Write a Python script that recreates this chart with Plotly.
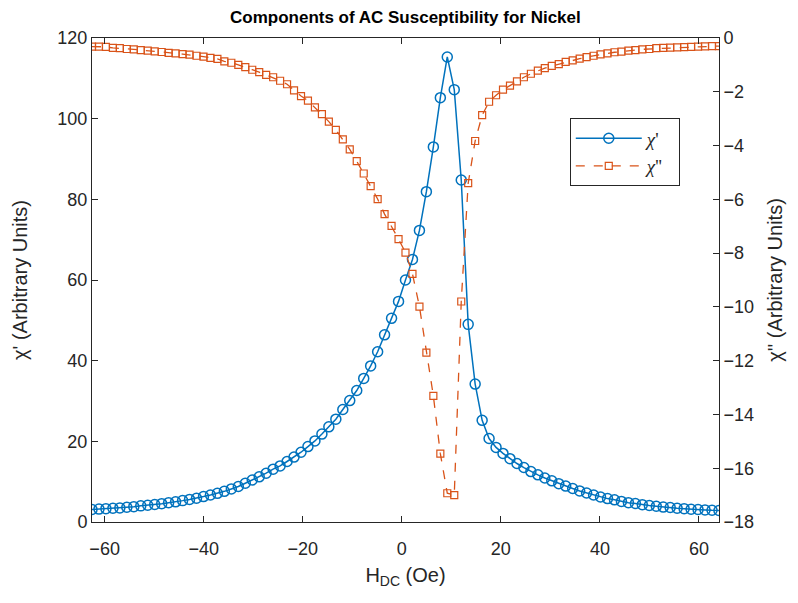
import plotly.graph_objects as go

# DC bias field sweep (Oe)
h_dc = [-62.55, -61.14, -59.74, -58.33, -56.93, -55.52, -54.11, -52.70, -51.30, -49.89,
        -48.48, -47.08, -45.67, -44.26, -42.86, -41.45, -40.04, -38.64, -37.23, -35.83,
        -34.42, -33.01, -31.60, -30.20, -28.79, -27.39, -25.98, -24.57, -23.17, -21.76,
        -20.35, -18.95, -17.54, -16.13, -14.73, -13.32, -11.91, -10.51, -9.10, -7.69,
        -6.29, -4.88, -3.48, -2.07, -0.66, 0.74, 2.15, 3.56, 4.96, 6.37,
        7.78, 9.18, 10.59, 12.00, 13.40, 14.81, 16.22, 17.62, 19.03, 20.43,
        21.84, 23.25, 24.65, 26.06, 27.47, 28.87, 30.28, 31.69, 33.09, 34.50,
        35.91, 37.31, 38.72, 40.12, 41.53, 42.94, 44.34, 45.75, 47.16, 48.56,
        49.97, 51.38, 52.78, 54.19, 55.59, 57.00, 58.41, 59.81, 61.22, 62.63, 64.03]

# In-phase component chi' (left axis)
chi_real = [3.1, 3.2, 3.3, 3.4, 3.5, 3.65, 3.8, 4.0, 4.15, 4.35,
            4.55, 4.8, 5.0, 5.3, 5.6, 5.9, 6.3, 6.7, 7.1, 7.6,
            8.2, 8.8, 9.6, 10.4, 11.2, 12.1, 13.1, 13.9, 15.0, 16.1,
            17.3, 18.7, 20.1, 21.8, 23.6, 25.5, 27.9, 30.1, 32.6, 35.6,
            38.7, 42.2, 46.4, 50.5, 54.7, 60.0, 65.1, 72.3, 81.9, 93.0,
            105.2, 115.3, 107.2, 84.8, 49.0, 34.2, 25.2, 20.7, 18.5, 17.0,
            15.7, 14.5, 13.5, 12.5, 11.7, 10.9, 10.2, 9.5, 8.9, 8.3,
            7.7, 7.2, 6.7, 6.2, 5.8, 5.5, 5.1, 4.8, 4.6, 4.3,
            4.1, 3.9, 3.7, 3.6, 3.4, 3.3, 3.15, 3.1, 3.0, 2.9, 2.85]

# Out-of-phase component chi'' (right axis)
chi_imag = [-0.32, -0.32, -0.33, -0.37, -0.38, -0.41, -0.42, -0.45, -0.47, -0.50,
            -0.52, -0.55, -0.57, -0.60, -0.62, -0.66, -0.69, -0.74, -0.78, -0.87,
            -0.92, -1.00, -1.08, -1.18, -1.27, -1.37, -1.46, -1.59, -1.72, -1.95,
            -2.16, -2.33, -2.58, -2.83, -3.11, -3.42, -3.77, -4.14, -4.58, -5.04,
            -5.51, -5.99, -6.55, -6.99, -7.48, -7.98, -8.77, -9.99, -11.70, -13.31,
            -15.46, -16.93, -17.00, -9.80, -5.40, -3.83, -2.87, -2.37, -2.13, -1.92,
            -1.77, -1.61, -1.46, -1.33, -1.21, -1.12, -1.04, -0.97, -0.89, -0.83,
            -0.77, -0.71, -0.66, -0.61, -0.57, -0.53, -0.51, -0.47, -0.45, -0.42,
            -0.41, -0.38, -0.37, -0.36, -0.35, -0.34, -0.33, -0.32, -0.31, -0.30, -0.30]

x_ticks = [-60, -40, -20, 0, 20, 40, 60]
left_ticks = [0, 20, 40, 60, 80, 100, 120]
right_ticks = [0, -2, -4, -6, -8, -10, -12, -14, -16, -18]

BLUE = "#0072BD"
ORANGE = "#D95319"
INK = "#262626"
FONT = "Liberation Sans, Arial, sans-serif"

fig = go.Figure()
fig.add_trace(go.Scatter(
    x=h_dc, y=chi_real, mode="lines+markers", name="<i>χ</i>'&nbsp;&nbsp;",
    line=dict(color=BLUE, width=1.5),
    marker=dict(symbol="circle-open", size=10, color=BLUE, line=dict(width=1.5)),
    yaxis="y",
))
fig.add_trace(go.Scatter(
    x=h_dc, y=chi_imag, mode="lines+markers", name="<i>χ</i>''&nbsp;&nbsp;",
    line=dict(color=ORANGE, width=1.3, dash="dash"),
    marker=dict(symbol="square-open", size=7, color=ORANGE, line=dict(width=1.2)),
    yaxis="y2",
))

fig.update_layout(
    width=798, height=603,
    margin=dict(l=92, r=79, t=38, b=81),
    paper_bgcolor="white", plot_bgcolor="white",
    font=dict(family=FONT, color=INK, size=18),
    title=dict(text="<b>Components of AC Susceptibility for Nickel</b>",
               x=0.508, xanchor="center", y=0.972, yanchor="middle",
               font=dict(size=17, color="black")),
    xaxis=dict(
        range=[-62.55, 64.04], tickvals=x_ticks, ticks="inside", ticklen=6,
        showline=True, linecolor=INK, linewidth=1, mirror="ticks",
        tickcolor=INK, showgrid=False, zeroline=False,
        tickfont=dict(size=18), ticklabelstandoff=10,
        title=dict(text="H<sub>DC</sub> (Oe)", font=dict(size=20), standoff=10),
    ),
    yaxis=dict(
        range=[0, 120], tickvals=left_ticks, ticks="inside", ticklen=6,
        showline=True, linecolor=INK, linewidth=1,
        tickcolor=INK, showgrid=False, zeroline=False,
        tickfont=dict(size=18),
        title=dict(text="χ' (Arbitrary Units)", font=dict(size=20), standoff=24),
    ),
    yaxis2=dict(
        range=[-18, 0], tickvals=right_ticks, ticks="inside", ticklen=6,
        overlaying="y", side="right",
        showline=True, linecolor=INK, linewidth=1,
        tickcolor=INK, showgrid=False, zeroline=False,
        tickfont=dict(size=18),
        title=dict(text="χ'' (Arbitrary Units)", font=dict(size=20), standoff=14),
    ),
    legend=dict(
        x=0.762, y=0.834, xanchor="left", yanchor="top",
        bgcolor="white", bordercolor=INK, borderwidth=1,
        font=dict(family="Liberation Serif, Times New Roman, serif", size=19, color=INK),
        tracegroupgap=0, itemwidth=66,
    ),
    showlegend=True,
)

fig.write_html("out.html")
